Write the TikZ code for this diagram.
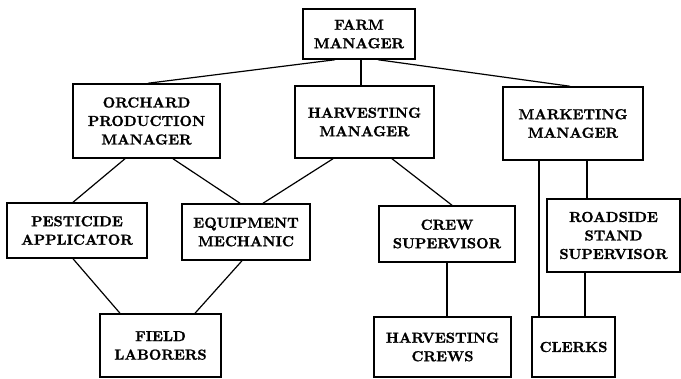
\documentclass[tikz,border=0pt]{standalone}
\usepackage{fontspec}
\newfontfamily\boxfont{lmroman10-bold}[Extension=.otf, FakeBold=1.2]
\usetikzlibrary{calc}
\begin{document}
\begin{tikzpicture}[x=1pt,y=-1pt,
  box/.style={draw, line width=1.5pt, inner sep=0pt, align=center,
    font=\boxfont\fontsize{14.5}{18.5}\selectfont},
  link/.style={line width=1.2pt}]
\useasboundingbox (0,0) rectangle (681,379);
% boxes: center, width, height
\node[box, minimum width=112, minimum height=50] (farm) at (359,34) {FARM\\MANAGER};
\node[box, minimum width=147, minimum height=74] (orch) at (146.5,121) {ORCHARD\\PRODUCTION\\MANAGER};
\node[box, minimum width=139, minimum height=72] (harv) at (364.5,122) {HARVESTING\\MANAGER};
\node[box, minimum width=140, minimum height=73] (mark) at (573,123.5) {MARKETING\\MANAGER};
\node[box, minimum width=140, minimum height=55] (pest) at (77,230.5) {PESTICIDE\\APPLICATOR};
\node[box, minimum width=128, minimum height=56] (equip) at (246,232) {EQUIPMENT\\MECHANIC};
\node[box, minimum width=136, minimum height=56] (crew) at (447,234) {CREW\\SUPERVISOR};
\node[box, minimum width=133, minimum height=73] (road) at (613.5,235.5) {ROADSIDE\\STAND\\SUPERVISOR};
\node[box, minimum width=121, minimum height=63] (field) at (160.5,345.5) {FIELD\\LABORERS};
\node[box, minimum width=137, minimum height=60] (hcrews) at (442.5,347) {HARVESTING\\CREWS};
\node[box, minimum width=83, minimum height=60] (clerks) at (573.5,347) {CLERKS};
% connectors
\draw[link] ([xshift=-24]farm.south) -- ([xshift=1.5]orch.north);
\draw[link] ([xshift=2]farm.south) -- ([xshift=2]farm.south |- harv.north);
\draw[link] ([xshift=19]farm.south) -- ([xshift=-3]mark.north);
\draw[link] ([xshift=-21.5]orch.south) -- ([xshift=-4]pest.north);
\draw[link] ([xshift=26.5]orch.south) -- ([xshift=-6]equip.north);
\draw[link] ([xshift=-31.5]harv.south) -- ([xshift=17]equip.north);
\draw[link] ([xshift=27.5]harv.south) -- ([xshift=5]crew.north);
\draw[link] ([xshift=14]mark.south) -- ([xshift=14]mark.south |- road.north);
\draw[link] ([xshift=-34]mark.south) -- ([xshift=-34]mark.south |- clerks.north);
\draw[link] ([xshift=-28.5]road.south) -- ([xshift=-28.5]road.south |- clerks.north);
\draw[link] ([xshift=-4]pest.south) -- ([xshift=-40.5]field.north);
\draw[link] ([xshift=-4]equip.south) -- ([xshift=34.5]field.north);
\draw[link] (crew.south) -- (crew.south |- hcrews.north);
\end{tikzpicture}
\end{document}
